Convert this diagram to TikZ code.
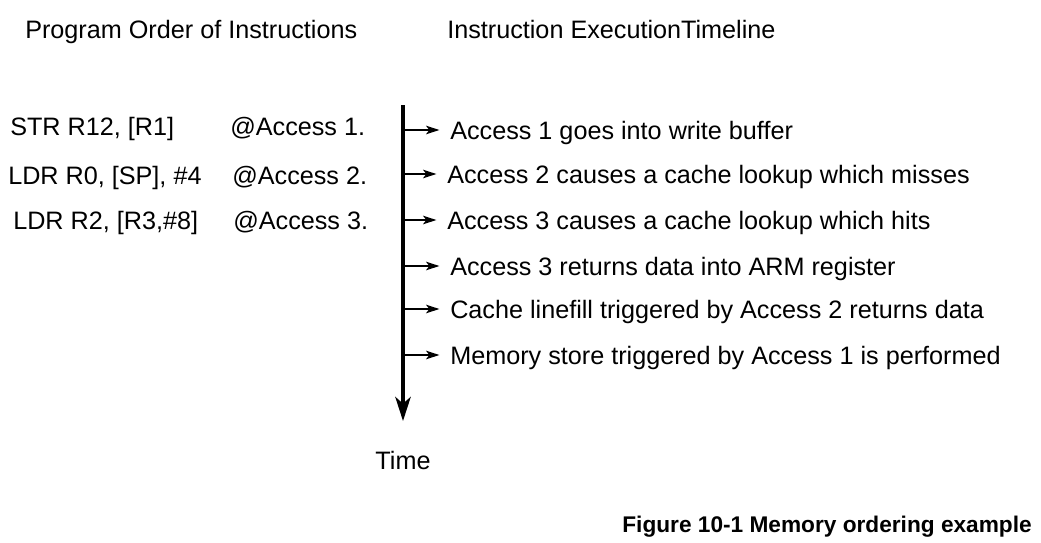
\documentclass[tikz,border=0pt]{standalone}
\usepackage{fontspec}
\setmainfont{Liberation Sans}
\usetikzlibrary{arrows.meta}

\begin{document}
\begin{tikzpicture}[x=0.75pt,y=0.75pt,yscale=-1,xscale=1,
  every node/.style={inner sep=0pt},
  txt/.style={anchor=base west,font=\fontsize{18.9}{22}\selectfont},
  tick/.style={line width=1.1pt,shorten >=8pt,-{Stealth[length=10pt,width=6.5pt,inset=2.5pt]}}]
\path (0,0) rectangle (1041,542); %set diagram size

% Text Node
\node (progtitle) at (25,39) [txt] {Program Order of Instructions};
% Text Node
\node (exectitle) at (447,39) [txt] {Instruction ExecutionTimeline};

% Text Node
\node (ins1) at (10,135) [txt] {STR R12, [R1]};
\node (acc1) at (230,135) [txt] {@Access 1.};
% Text Node
\node (ins2) at (8,184) [txt] {LDR R0, [SP], \#4};
\node (acc2) at (232,184) [txt] {@Access 2.};
% Text Node
\node (ins3) at (13,229) [txt] {LDR R2, [R3,\#8]};
\node (acc3) at (233,229) [txt] {@Access 3.};

%Straight Lines  timeline
\coordinate (ttop) at (403,105);
\coordinate (tend) at (403,421);
\draw [line width=2.9pt,-{Stealth[length=18pt,width=11.5pt,inset=5pt]}] (ttop) -- (tend);
% Text Node
\node (time) at (403,469) [txt,anchor=base] {Time};

% Text Node
\node (ev1) at (450,139) [txt] {Access 1 goes into write buffer};
\node (ev2) at (447,183) [txt] {Access 2 causes a cache lookup which misses};
\node (ev3) at (447,229) [txt] {Access 3 causes a cache lookup which hits};
\node (ev4) at (450,275) [txt] {Access 3 returns data into ARM register};
\node (ev5) at (450,318) [txt] {Cache linefill triggered by Access 2 returns data};
\node (ev6) at (450,364) [txt] {Memory store triggered by Access 1 is performed};

%Straight Lines
\coordinate (t1) at (403,130);
\coordinate (t2) at (403,174);
\coordinate (t3) at (403,220);
\coordinate (t4) at (403,266);
\coordinate (t5) at (403,309);
\coordinate (t6) at (403,355);
\draw [tick] (t1) -- (t1 -| ev1.west);
\draw [tick] (t2) -- (t2 -| ev2.west);
\draw [tick] (t3) -- (t3 -| ev3.west);
\draw [tick] (t4) -- (t4 -| ev4.west);
\draw [tick] (t5) -- (t5 -| ev5.west);
\draw [tick] (t6) -- (t6 -| ev6.west);

% Text Node
\node (caption) at (1032,532) [anchor=base east,font=\fontsize{17}{20}\selectfont\bfseries] {Figure 10-1 Memory ordering example};

\end{tikzpicture}
\end{document}
